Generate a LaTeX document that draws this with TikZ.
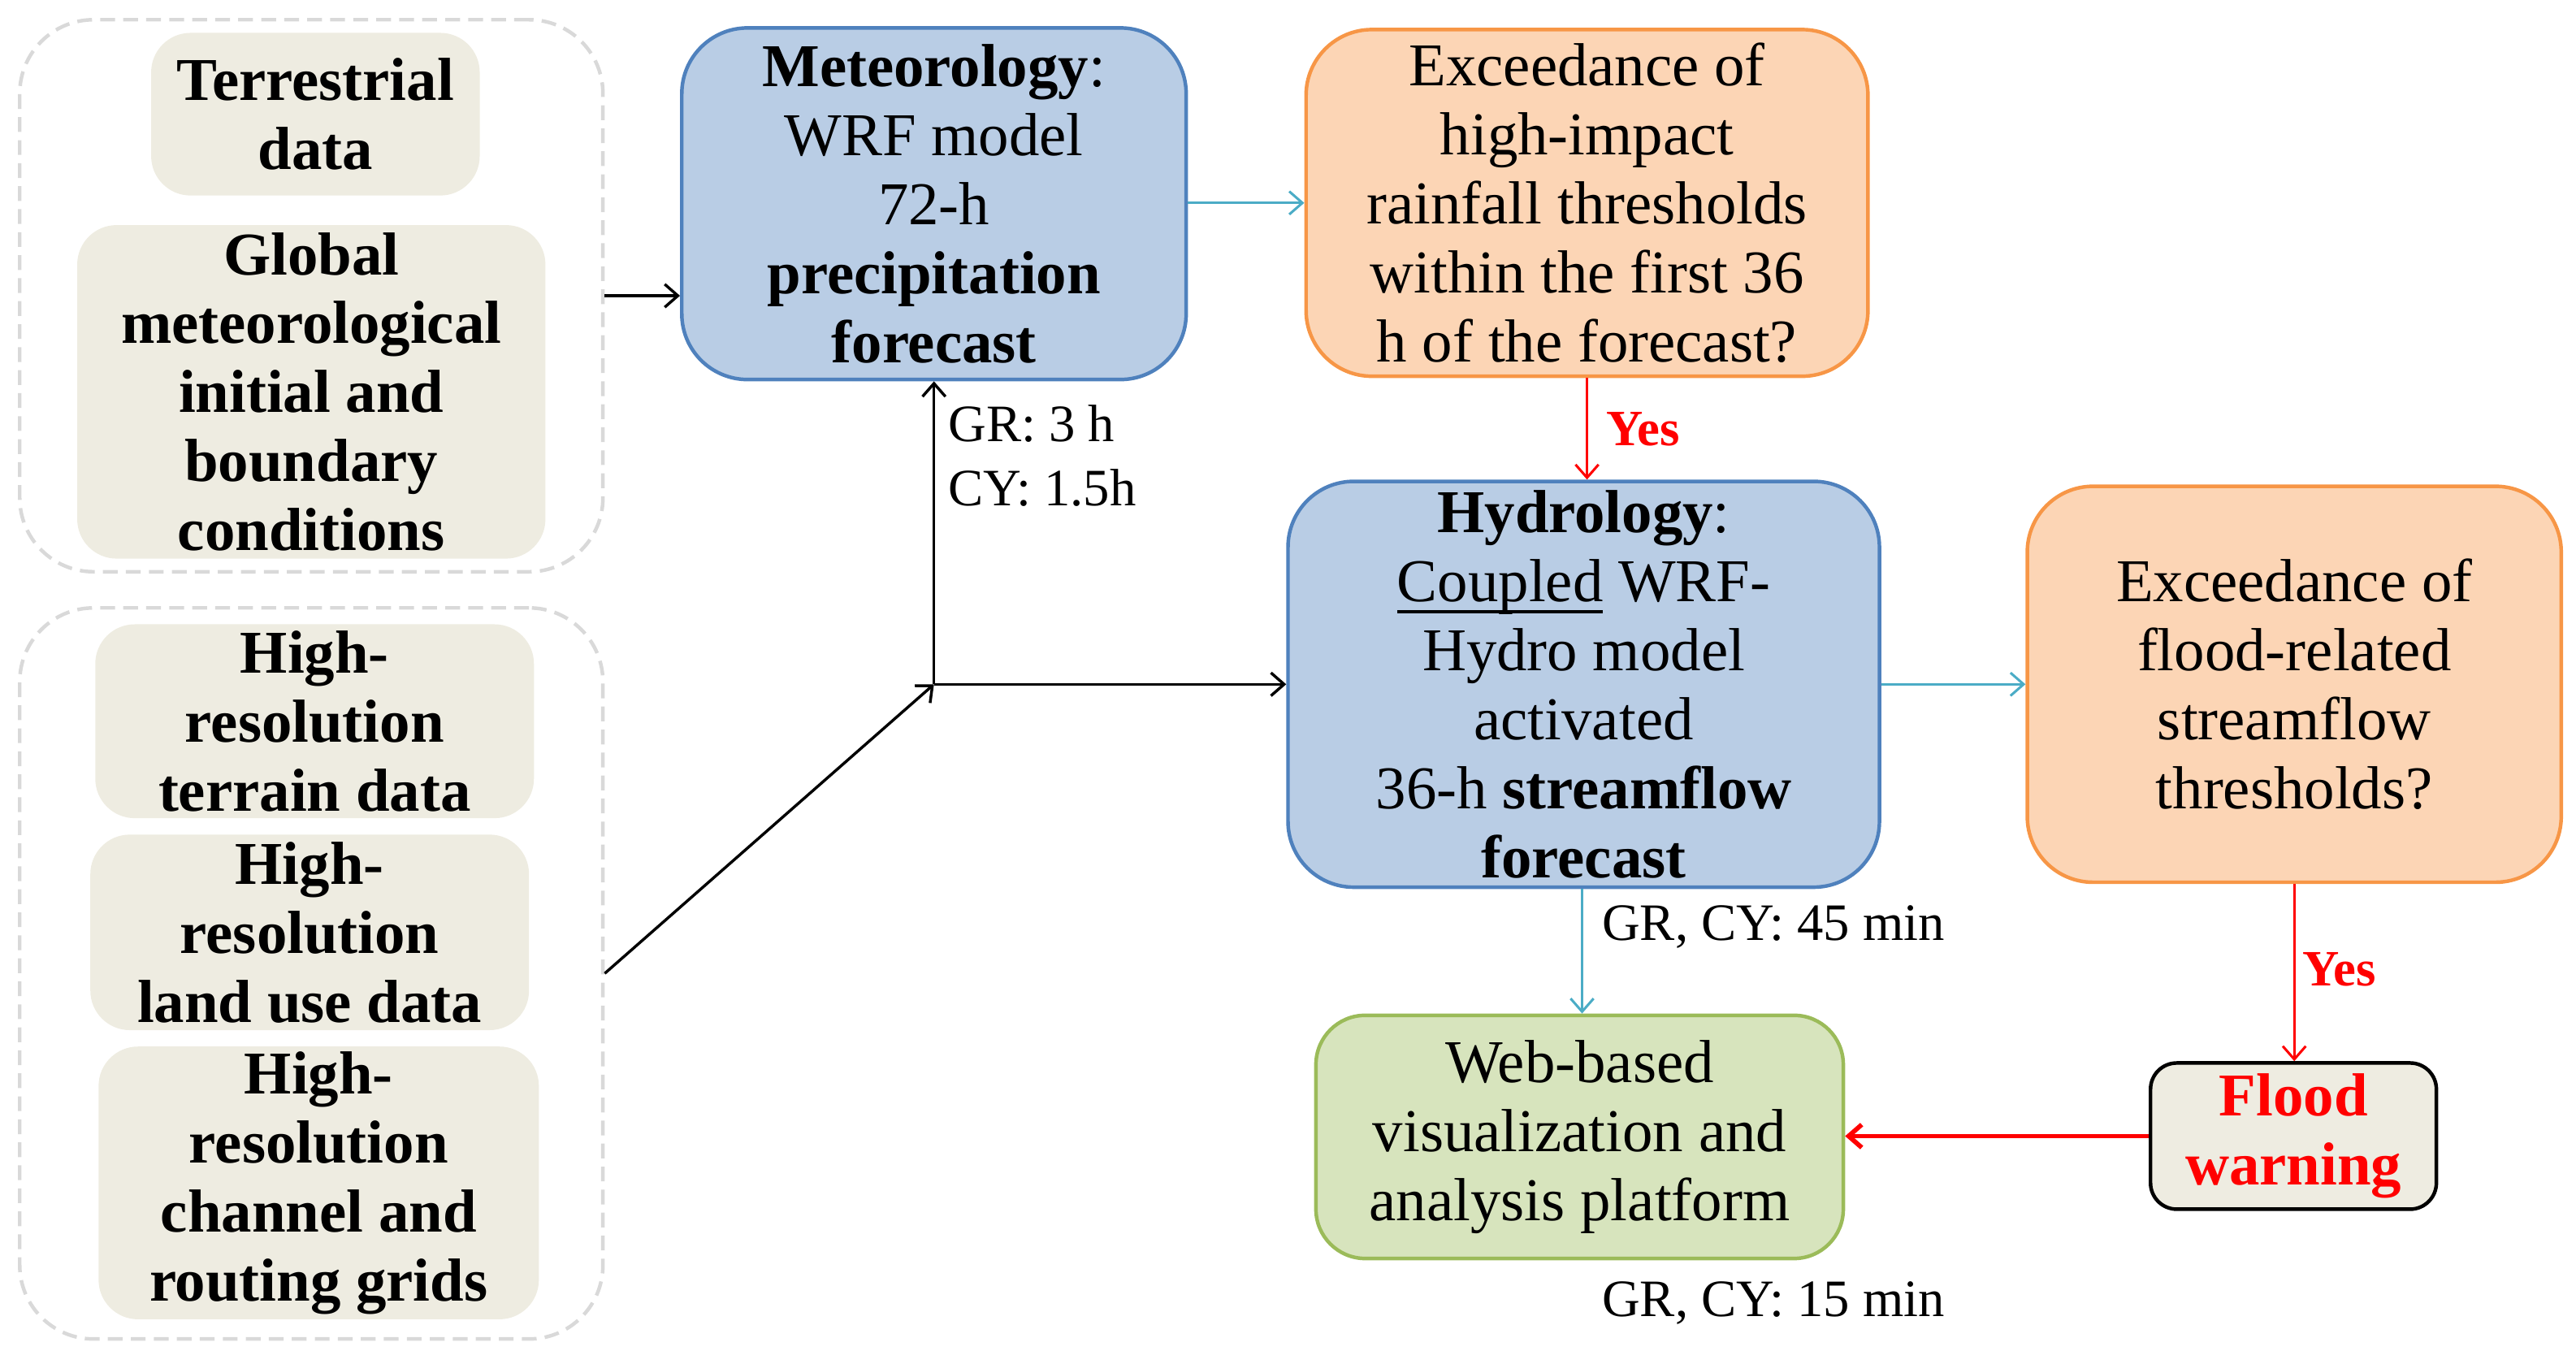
\documentclass[tikz,border=0pt]{standalone}
\usepackage{fontspec}
\setmainfont{Liberation Serif}
\usetikzlibrary{arrows.meta}
\definecolor{beige}{HTML}{EEECE1}
\definecolor{bluefill}{HTML}{B9CDE5}
\definecolor{blueline}{HTML}{4F81BD}
\definecolor{orfill}{HTML}{FCD5B5}
\definecolor{orline}{HTML}{F79646}
\definecolor{grfill}{HTML}{D7E4BD}
\definecolor{grline}{HTML}{9BBB59}
\definecolor{cyanarr}{HTML}{4BACC6}
\definecolor{dashgray}{HTML}{D9D9D9}
\newcommand{\thickul}[1]{\setbox0\hbox{#1}\rlap{\rule[-7pt]{\wd0}{2pt}}\box0\relax}
\begin{document}
\begin{tikzpicture}[x=1pt,y=-1pt,
  base/.style={align=center, inner sep=0pt, font=\fontsize{37}{42}\selectfont},
  inbox/.style={base, fill=beige, rounded corners=24pt, font=\bfseries\fontsize{37}{42}\selectfont},
  group/.style={draw=dashgray, line width=2.2pt, dash pattern=on 9pt off 5pt, rounded corners=45pt, inner sep=0pt},
  bluebox/.style={base, fill=bluefill, draw=blueline, line width=2.2pt, rounded corners=40pt},
  orbox/.style={base, fill=orfill, draw=orline, line width=2.2pt, rounded corners=40pt},
  grbox/.style={base, fill=grfill, draw=grline, line width=2.2pt, rounded corners=30pt},
  flbox/.style={base, fill=beige, draw=black, line width=2.2pt, rounded corners=16pt, text=red, font=\bfseries\fontsize{37}{42}\selectfont},
  lab/.style={inner sep=0pt, align=left, font=\fontsize{32}{39}\selectfont},
  yes/.style={inner sep=0pt, text=red, font=\bfseries\fontsize{31}{36}\selectfont},
  tip/.style={-{Straight Barb[length=8pt,width=14pt]}},
  blk/.style={tip, draw=black, line width=1.7pt},
  cy/.style={tip, draw=cyanarr, line width=1.5pt},
  rd/.style={tip, draw=red, line width=1.5pt}
]
\useasboundingbox (0,0) rectangle (1568,830);

% dashed groups
\node[group, minimum width=355pt, minimum height=336pt] (g1) at (189.5,180) {};
\node[group, minimum width=355pt, minimum height=445pt] (g2) at (189.5,592.5) {};

% input boxes
\node[inbox, minimum width=200pt, minimum height=99pt] (terr) at (192,69.5) {Terrestrial\\data};
\node[inbox, minimum width=285pt, minimum height=203pt] (glob) at (189.5,238.5) {Global\\meteorological\\initial and\\boundary\\conditions};
\node[inbox, minimum width=267pt, minimum height=118pt] (hr1) at (191.5,439) {High-\\resolution\\terrain data};
\node[inbox, minimum width=267pt, minimum height=119pt] (hr2) at (188.5,567.5) {High-\\resolution\\land use data};
\node[inbox, minimum width=268pt, minimum height=166pt] (hr3) at (194,720) {High-\\resolution\\channel and\\routing grids};

% process boxes
\node[bluebox, minimum width=307pt, minimum height=214pt] (met) at (568.5,124)
  {\textbf{Meteorology}:\\WRF model\\72-h\\\textbf{precipitation}\\\textbf{forecast}};
\node[orbox, minimum width=342pt, minimum height=211pt] (ex1) at (966,123.5)
  {Exceedance of\\high-impact\\rainfall thresholds\\within the first 36\\h of the forecast?};
\node[bluebox, minimum width=360pt, minimum height=247pt] (hyd) at (964,416.5)
  {\textbf{Hydrology}:\\\thickul{Coupled} WRF-\\Hydro model\\activated\\36-h \textbf{streamflow}\\\textbf{forecast}};
\node[orbox, minimum width=325pt, minimum height=241pt] (ex2) at (1396.5,416.5)
  {Exceedance of\\flood-related\\streamflow\\thresholds?};
\node[grbox, minimum width=321pt, minimum height=148pt] (web) at (961.5,692)
  {Web-based\\visualization and\\analysis platform};
\node[flbox, minimum width=174pt, minimum height=89pt] (flood) at (1396,691.5)
  {Flood\\warning};

% connectors
\coordinate (J) at (met.south |- hyd.west);
\draw[blk] (g1.east) -- (g1.east -| met.west);
\draw[blk] (g2.east) -- (J);
\draw[blk] (J) -- (met.south);
\draw[blk] (J) -- (hyd.west);
\draw[cy] (met.east |- ex1.west) -- (ex1.west);
\draw[rd] (ex1.south) -- (ex1.south |- hyd.north);
\draw[cy] (hyd.east |- ex2.west) -- (ex2.west);
\draw[cy] (hyd.south -| web.north) ++(1.5,0) coordinate (hs) (hs) -- (hs |- web.north);
\draw[rd] (ex2.south) -- (ex2.south |- flood.north);
\draw[rd, line width=2.8pt] (flood.west) -- (flood.west -| web.east);

% labels
\node[lab, anchor=west] (l1) at (577,277.5) {GR: 3 h\\CY: 1.5h};
\node[yes] (y1) at (1000,261) {Yes};
\node[lab, anchor=west] (l2) at (975,564) {GR, CY: 45 min};
\node[yes] (y2) at (1424,590) {Yes};
\node[lab, anchor=west] (l3) at (975,793) {GR, CY: 15 min};
\end{tikzpicture}
\end{document}
